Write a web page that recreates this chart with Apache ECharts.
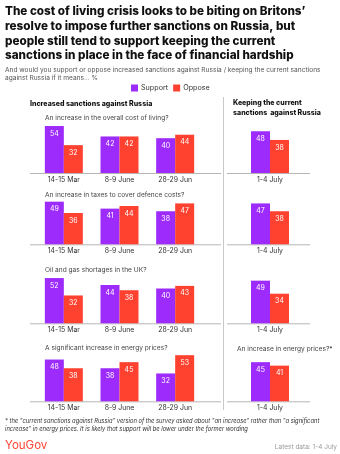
<!DOCTYPE html>
<html><head><meta charset="utf-8">
<script src="https://cdn.jsdelivr.net/npm/echarts@6/dist/echarts.min.js"></script>
<style>html,body{margin:0;padding:0;background:#fff}#c{width:340px;height:454px}</style>
</head><body><div id="c"></div>
<script>
const categoriesLeft = ['14-15 Mar', '8-9 June', '28-29 Jun'];
const categoriesRight = ['1-4 July'];
const questionsLeft = [
  'An increase in the overall cost of living?',
  'An increase in taxes to cover defence costs?',
  'Oil and gas shortages in the UK?',
  'A significant increase in energy prices?'
];
const supportLeft = [[54, 42, 40], [49, 41, 38], [52, 44, 40], [48, 38, 32]];
const opposeLeft  = [[32, 42, 44], [36, 44, 47], [32, 38, 43], [38, 45, 53]];
const supportRight = [48, 47, 49, 45];
const opposeRight  = [38, 38, 34, 41];

const PURPLE = '#9d2bfc', RED = '#ff4130';
const FONT = 'Inter, "Noto Sans", sans-serif';
const baselines = [173, 244.3, 323.3, 401.3];
const yMax = 60, pxPerUnit = 0.87;
const gh = yMax * pxPerUnit;

const grids = [], xAxes = [], yAxes = [], series = [], graphics = [];
baselines.forEach((b, i) => {
  grids.push({left: 36, width: 167, top: b - gh, height: gh});
  grids.push({left: 240, width: 60, top: b - gh, height: gh});
});
for (let i = 0; i < 4; i++) {
  [0, 1].forEach(side => {
    const gi = i * 2 + side;
    xAxes.push({
      type: 'category', gridIndex: gi,
      data: side === 0 ? categoriesLeft : categoriesRight,
      axisLine: {show: false}, axisTick: {show: false},
      axisLabel: {fontSize: 6.9, color: '#333', margin: 3.5, fontFamily: FONT}
    });
    yAxes.push({type: 'value', gridIndex: gi, min: 0, max: yMax, show: false});
    const lab = {show: true, position: 'insideTop', distance: 4, color: '#fff', fontSize: 7, fontFamily: FONT};
    series.push({
      type: 'bar', name: 'Support', xAxisIndex: gi, yAxisIndex: gi,
      data: side === 0 ? supportLeft[i] : [supportRight[i]],
      barWidth: 19, barGap: '0%', itemStyle: {color: PURPLE}, label: lab, silent: true
    });
    series.push({
      type: 'bar', name: 'Oppose', xAxisIndex: gi, yAxisIndex: gi,
      data: side === 0 ? opposeLeft[i] : [opposeRight[i]],
      barWidth: 19, barGap: '0%', itemStyle: {color: RED}, label: lab, silent: true
    });
  });
  const b = baselines[i];
  graphics.push({type: 'line', shape: {x1: 30, y1: b + 0.5, x2: 221, y2: b + 0.5}, style: {stroke: '#b5b5b5', lineWidth: 1}});
  graphics.push({type: 'line', shape: {x1: 227, y1: b + 0.5, x2: 310, y2: b + 0.5}, style: {stroke: '#b5b5b5', lineWidth: 1}});
}
const qY = [118, 194.7, 270, 348.3];
questionsLeft.forEach((q, i) => {
  graphics.push({type: 'text', x: 45, y: qY[i], style: {text: q, fontSize: 6.6, fill: '#444', fontFamily: FONT, verticalAlign: 'middle'}});
});
graphics.push({type: 'text', x: 237, y: 349.3, style: {text: 'An increase in energy prices?*', fontSize: 6.6, fill: '#444', fontFamily: FONT, verticalAlign: 'middle'}});

graphics.push({type: 'line', shape: {x1: 223.5, y1: 97, x2: 223.5, y2: 410}, style: {stroke: '#c8c8c8', lineWidth: 1}});

graphics.push({type: 'text', x: 5, y: 4, style: {
  text: 'The cost of living crisis looks to be biting on Britons\u2019\nresolve to impose further sanctions on Russia, but\npeople still tend to support keeping the current\nsanctions in place in the face of financial hardship',
  fontSize: 11.7, fontWeight: 800, fill: '#111', lineHeight: 14.8, fontFamily: FONT}});
graphics.push({type: 'text', x: 5, y: 66.5, style: {
  text: 'And would you support or oppose increased sanctions against Russia / keeping the current sanctions\nagainst Russia if it means... %',
  fontSize: 6.6, fill: '#555', lineHeight: 8, fontFamily: FONT}});
graphics.push({type: 'text', x: 30, y: 104.3, style: {text: 'Increased sanctions against Russia', fontSize: 7, fontWeight: 800, fill: '#111', fontFamily: FONT, verticalAlign: 'middle'}});
graphics.push({type: 'text', x: 233, y: 98.5, style: {text: 'Keeping the current\nsanctions  against Russia', fontSize: 7, fontWeight: 800, fill: '#111', lineHeight: 9.5, fontFamily: FONT}});

graphics.push({type: 'text', x: 5, y: 417, style: {
  text: '* the "current sanctions against Russia" version of the survey asked about "an increase" rather than "a significant\nincrease" in energy prices. It is likely that support will be lower under the former wording',
  fontSize: 5.8, fontStyle: 'italic', fill: '#333', lineHeight: 8, fontFamily: FONT}});
graphics.push({type: 'text', x: 5, y: 446, style: {text: 'YouGov', fontSize: 11.5, fill: '#ff4130', fontFamily: FONT, verticalAlign: 'middle'}});
graphics.push({type: 'text', x: 337, y: 447, style: {text: 'Latest data: 1-4 July', fontSize: 6.5, fill: '#999', fontFamily: FONT, align: 'right', verticalAlign: 'middle'}});

const chart = echarts.init(document.getElementById('c'), null, {renderer: 'canvas'});
chart.setOption({
  animation: false,
  legend: {data: ['Support', 'Oppose'], left: 131, top: 84.5, itemWidth: 7, itemHeight: 7, itemGap: 5,
    icon: 'rect', textStyle: {fontSize: 7.2, color: '#333', fontFamily: FONT, padding: [0, 0, 0, -2]}, padding: 0},
  grid: grids, xAxis: xAxes, yAxis: yAxes, series: series, graphic: graphics
});
</script></body></html>
